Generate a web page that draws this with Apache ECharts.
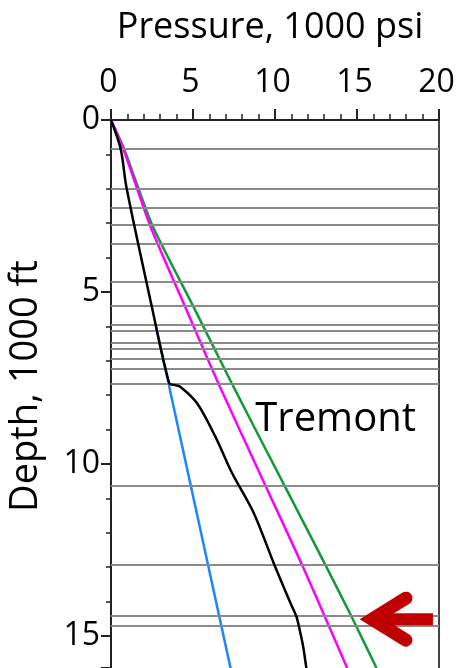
<!DOCTYPE html>
<html>
<head>
<meta charset="utf-8">
<script src="https://cdn.jsdelivr.net/npm/echarts@6/dist/echarts.min.js"></script>
<style>
  html, body { margin: 0; padding: 0; background: #ffffff; }
  #chart { width: 464px; height: 668px; }
</style>
</head>
<body>
<div id="chart"></div>
<script>
// Axis ticks (pressure in 1000 psi, depth in 1000 ft)
const pressureTicks = [0, 5, 10, 15, 20];
const depthTicks = [0, 5, 10, 15];
const depthMax = 15.93;

// Formation tops (depth, 1000 ft)
const formationTops = [0.84, 2.01, 2.54, 3.05, 3.61, 4.71, 5.40, 5.96, 6.13, 6.47,
                       6.66, 6.93, 7.22, 7.68, 10.63, 12.94, 14.42, 14.70];

// Overburden gradient curve
const overburdenP = [0, 0.80, 2.51, 5.01, 7.39, 10.58, 13.08, 14.65, 16.19];
const overburdenD = [0, 0.84, 3.05, 5.41, 7.68, 10.63, 12.94, 14.42, 15.93];

// Fracture gradient curve
const fractureP = [0, 0.75, 2.37, 4.50, 6.57, 9.42, 11.66, 13.02, 14.40];
const fractureD = [0, 0.84, 3.05, 5.41, 7.68, 10.63, 12.94, 14.42, 15.93];

// Hydrostatic trend
const hydroP = [2.75, 7.32];
const hydroD = [6.00, 16.00];

// Pore pressure profile
const poreP = [0, 0.59, 0.95, 2.48, 3.56, 3.86, 4.24, 5.26, 6.37, 7.39, 8.71,
               9.93, 10.95, 11.31, 11.51, 11.72, 11.90, 11.95];
const poreD = [0, 0.84, 1.98, 5.41, 7.66, 7.70, 7.76, 8.24, 9.21, 10.27, 11.43,
               12.89, 14.05, 14.44, 14.83, 15.31, 15.89, 16.00];

// Annotations
const labelText = 'Tremont';
const labelAt = [20.0, 8.72];     // right-hand anchor of the label
const arrowTip = [15.09, 14.51];  // point of the arrow head
const arrowTail = [19.63, 14.51];

const pairs = (xs, ys) => xs.map((x, i) => [x, ys[i]]);
const FONT = '"Open Sans", "Noto Sans", sans-serif';
const AXIS_COLOR = '#222222';

const chart = echarts.init(document.getElementById('chart'), null, { renderer: 'canvas' });

const lineSeries = (name, xs, ys, color, z, smooth) => ({
  name, type: 'line', data: pairs(xs, ys), showSymbol: false, symbol: 'none',
  smooth, z,
  lineStyle: { color, width: 2.5 }
});

chart.setOption({
  animation: false,
  backgroundColor: '#ffffff',
  grid: { left: 111, right: 25, top: 120, bottom: 0, containLabel: false, outerBoundsMode: 'none' },
  xAxis: [{
    type: 'value', position: 'top',
    min: pressureTicks[0], max: pressureTicks[pressureTicks.length - 1],
    interval: pressureTicks[1] - pressureTicks[0],
    name: 'Pressure, 1000 psi', nameLocation: 'middle', nameGap: 74,
    nameTextStyle: { fontFamily: FONT, fontSize: 36, color: '#000', padding: [0, 0, 0, -10] },
    axisLine: { show: true, onZero: false, lineStyle: { color: AXIS_COLOR, width: 2 } },
    axisTick: { show: true, inside: false, length: 11, lineStyle: { color: AXIS_COLOR, width: 2 } },
    minorTick: { show: true, splitNumber: 5, length: 6, lineStyle: { color: AXIS_COLOR, width: 1.5 } },
    axisLabel: { fontFamily: FONT, fontSize: 32, color: '#000', margin: 21, padding: [0, 5, 0, 0] },
    splitLine: { show: false }
  }],
  yAxis: [{
    type: 'value', inverse: true,
    min: depthTicks[0], max: depthMax,
    interval: depthTicks[1] - depthTicks[0],
    name: 'Depth, 1000 ft', nameLocation: 'middle', nameGap: 66, nameRotate: 90,
    nameTextStyle: { fontFamily: FONT, fontSize: 38, color: '#000', padding: [0, 0, 0, 16] },
    axisLine: { show: true, onZero: false, lineStyle: { color: AXIS_COLOR, width: 2 } },
    axisTick: { show: true, inside: false, length: 10, lineStyle: { color: AXIS_COLOR, width: 2 } },
    minorTick: { show: true, splitNumber: 5, length: 5, lineStyle: { color: AXIS_COLOR, width: 1.5 } },
    axisLabel: { fontFamily: FONT, fontSize: 32, color: '#000', margin: 11,
                 showMaxLabel: false },
    splitLine: { show: false }
  }, {
    type: 'value', inverse: true, position: 'right',
    min: depthTicks[0], max: depthMax,
    axisLine: { show: true, onZero: false, lineStyle: { color: '#444', width: 2 } },
    axisTick: { show: false }, axisLabel: { show: false }, splitLine: { show: false }
  }],
  series: [
    {
      name: 'Formation tops', type: 'line', data: [], z: 1,
      markLine: {
        silent: true, symbol: ['none', 'none'], animation: false,
        label: { show: false },
        lineStyle: { color: '#8a8a8a', width: 2, type: 'solid' },
        data: formationTops.map(d => ({ yAxis: d }))
      }
    },
    lineSeries('Hydrostatic', hydroP, hydroD, '#1a86ff', 2, false),
    lineSeries('Overburden', overburdenP, overburdenD, '#129a34', 3, 0.2),
    lineSeries('Fracture', fractureP, fractureD, '#ff00ff', 4, 0.2),
    lineSeries('Pore pressure', poreP, poreD, '#000000', 5, 0.3)
  ]
});

// Text label and pointer arrow, placed through the chart's own coordinate system
const lbl = chart.convertToPixel({ gridIndex: 0 }, labelAt);
const tip = chart.convertToPixel({ gridIndex: 0 }, arrowTip);
const tail = chart.convertToPixel({ gridIndex: 0 }, arrowTail);
const RED = '#c00000';
const vx = tip[0] + 13.5;   // vertex of the mitred head
chart.setOption({
  graphic: [
    {
      type: 'text', x: lbl[0] - 23, y: lbl[1], z: 10,
      style: { text: labelText, font: '40px ' + FONT, fill: '#000',
               textAlign: 'right', textVerticalAlign: 'middle' }
    },
    {
      type: 'polyline', z: 10,
      shape: { points: [[vx, tip[1]], [tail[0], tail[1]]] },
      style: { stroke: RED, lineWidth: 12, lineCap: 'butt', fill: null }
    },
    {
      type: 'polyline', z: 10,
      shape: { points: [[vx + 34, tip[1] - 21], [vx, tip[1]], [vx + 34, tip[1] + 21]] },
      style: { stroke: RED, lineWidth: 13, lineCap: 'round', lineJoin: 'miter', miterLimit: 10, fill: null }
    }
  ]
});
</script>
</body>
</html>
